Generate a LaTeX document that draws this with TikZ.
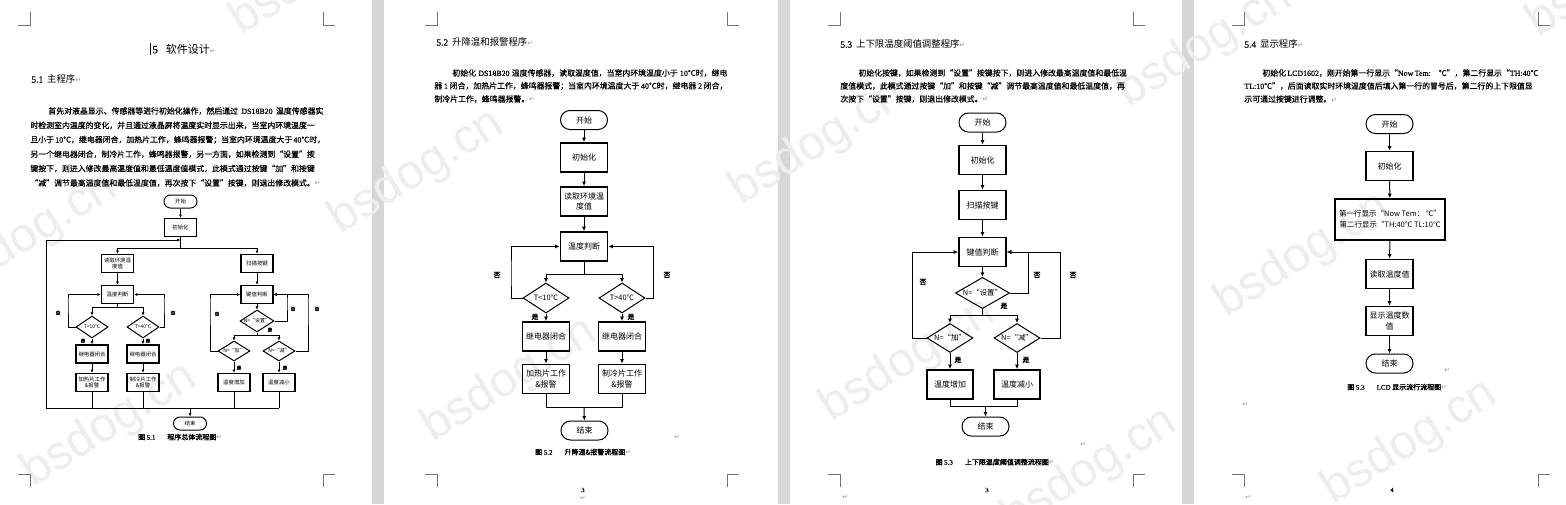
\documentclass[tikz,border=0pt]{standalone}
\usepackage{fontspec}
\setmainfont{Liberation Serif}[FakeBold=0.6]
\newfontfamily\cjk{Noto Sans CJK SC}
\newfontfamily\cjkbody[FakeBold=0.6]{Noto Sans CJK SC}
\newfontfamily\cjkbold[FakeBold=1.5]{Noto Sans CJK SC}
\newfontfamily\wmfont{Liberation Sans}
\newfontfamily\markfont{DejaVu Sans}
\usetikzlibrary{arrows.meta,shapes.geometric}

% stretchable glue between Chinese characters, so that lines can be justified
\XeTeXinterchartokenstate=1
\def\cjkglue{\hskip0pt plus 1pt\relax}
\XeTeXinterchartoks 0 1={\cjkglue}
\XeTeXinterchartoks 1 0={\cjkglue}
\XeTeXinterchartoks 1 1={\cjkglue}
\XeTeXinterchartoks 1 2={\cjkglue}
\XeTeXinterchartoks 1 3={\cjkglue}
\XeTeXinterchartoks 2 1={\cjkglue}
\XeTeXinterchartoks 3 1={\cjkglue}
\XeTeXinterchartoks 3 2={\cjkglue}
\XeTeXinterchartoks 3 3={\cjkglue}
\XeTeXinterchartoks 0 2={\cjkglue}
\XeTeXinterchartoks 3 0={\cjkglue}

\newcommand\jline[2]{\hbox to #1{#2}}
\newcommand\lat[1]{{\rmfamily #1}}
\newcommand\pmark{{\markfont\color{black!45}\fontsize{3.3}{4}\selectfont ↵}}
\newcommand\bodyfont{\cjkbody\fontsize{3.95}{4.8}\selectfont}

\begin{document}
\begin{tikzpicture}[x=0.5pt, y=-0.5pt,
  txt/.style={anchor=west, inner sep=0pt, font=\bodyfont},
  head/.style={anchor=west, inner sep=0pt, font=\cjk\fontsize{4.7}{5}\selectfont},
  box/.style={draw, line width=0.9pt, minimum width=23.5pt, minimum height=14.5pt, inner sep=0.5pt, align=center, font=\cjk\fontsize{4}{5.2}\selectfont},
  term/.style={draw, line width=0.5pt, rounded corners=4.7pt, minimum width=23.5pt, minimum height=9.5pt, inner sep=0pt, font=\cjk\fontsize{4}{5}\selectfont},
  dia/.style={draw, diamond, aspect=1.6, line width=0.5pt, minimum width=23pt, minimum height=15pt, inner sep=0pt, font=\cjk\fontsize{3.7}{4.5}\selectfont},
  sbox/.style={box, line width=0.7pt, minimum width=16pt, minimum height=9pt, font=\cjk\fontsize{2.7}{3.4}\selectfont},
  sterm/.style={term, rounded corners=3.2pt, minimum width=16.5pt, minimum height=6.5pt, font=\cjk\fontsize{2.7}{3.3}\selectfont},
  sdia/.style={dia, minimum width=16pt, minimum height=11pt, font=\cjk\fontsize{2.5}{3}\selectfont},
  lab/.style={inner sep=0pt, font=\cjkbold\fontsize{3.5}{4}\selectfont},
  slab/.style={inner sep=0pt, font=\cjkbold\fontsize{2.3}{3}\selectfont},
  capt/.style={inner sep=0pt, font=\cjkbold\fontsize{3.5}{4}\selectfont},
  arr/.style={-{Latex[length=2.2pt,width=2pt]}, line width=0.5pt},
  sarr/.style={-{Latex[length=1.6pt,width=1.5pt]}, line width=0.45pt},
  ln/.style={line width=0.5pt},
  wm/.style={text=black!7, rotate=32, inner sep=0pt, font=\wmfont\fontsize{24}{24}\selectfont},
  crop/.style={black!55, line width=0.4pt}]
\useasboundingbox (0,0) rectangle (1566,504);
\fill[white] (0,0) rectangle (1566,504);
\fill[black!16] (372,0) rectangle (384,504);
\fill[black!16] (778,0) rectangle (790,504);
\fill[black!16] (1182,0) rectangle (1194,504);

% watermark
\foreach \x/\y in {318/-27, 30/235, 110/425, 417/172, 510/380, 818/143, 908/360, 1090/470, 1205/45, 1303/255, 1410/442, 1615/-25}
  \node[wm] at (\x,\y) {bsdog.cn};

% crop marks
\foreach \l/\r in {30/323, 437/727, 840/1133, 1244/1538} {
  \draw[crop] (\l-12,25) -- (\l,25) -- (\l,12);
  \draw[crop] (\r+12,25) -- (\r,25) -- (\r,12);
  \draw[crop] (\l-12,474) -- (\l,474) -- (\l,487);
  \draw[crop] (\r+12,474) -- (\r,474) -- (\r,487);
}

% page 1
\draw[black, line width=0.4pt] (150,43) -- (150,55);
\node[anchor=west, inner sep=0pt, font=\cjk\fontsize{5.5}{6}\selectfont] (t1) at (152,49) {\lat{5}\hspace{4pt}软件设计\pmark};
\node[head] (h1) at (31,79) {\lat{5.1}\hspace{2pt}主程序\pmark};
\node[txt] (p1a) at (48,111) {\jline{137.5pt}{首先对液晶显示、传感器等进行初始化操作，然后通过 \lat{DS18B20} 温度传感器实}};
\node[txt] (p1b) at (30,125.4) {\jline{146.5pt}{时检测室内温度的变化，并且通过液晶屏将温度实时显示出来，当室内环境温度一}};
\node[txt] (p1c) at (30,139.8) {\jline{146.5pt}{旦小于 \lat{10}℃，继电器闭合，加热片工作，蜂鸣器报警；当室内环境温度大于 \lat{40}℃时，}};
\node[txt] (p1d) at (30,154.2) {\jline{146.5pt}{另一个继电器闭合，制冷片工作，蜂鸣器报警，另一方面，如果检测到“设置”按}};
\node[txt] (p1e) at (30,168.6) {\jline{146.5pt}{键按下，则进入修改最高温度值和最低温度值模式，此模式通过按键“加”和按键}};
\node[txt] (p1f) at (30,183) {“减”调节最高温度值和最低温度值，再次按下“设置”按键，则退出修改模式。\pmark};

\node[sterm] (a_s) at (180.5,201.5) {开始};
\node[sbox] (a_i) at (180.5,227.5) {初始化};
\node[sbox] (a_r) at (117.5,263.5) {读取环境温\\度值};
\node[sbox] (a_k) at (257,263.5) {扫描按键};
\node[sbox] (a_t) at (117.5,294.5) {温度判断};
\node[sbox] (a_j) at (257,294.5) {键值判断};
\node[sdia] (a_d1) at (92,327) {T<10℃};
\node[sdia] (a_d2) at (143,327) {T>40℃};
\node[sdia, minimum width=17pt] (a_d3) at (257,321) {N=“设置”};
\node[sdia, minimum height=10pt] (a_d4) at (234,351) {N=“加”};
\node[sdia, minimum height=10pt] (a_d5) at (279,351) {N=“减”};
\node[sbox] (a_c1) at (92,354) {继电器闭合};
\node[sbox] (a_c2) at (143,354) {继电器闭合};
\node[sbox] (a_h1) at (92,382.5) {加热片工作\\\&报警};
\node[sbox] (a_h2) at (143,382.5) {制冷片工作\\\&报警};
\node[sbox] (a_u) at (234,382.5) {温度增加};
\node[sbox] (a_v) at (279,382.5) {温度减小};
\node[sterm] (a_e) at (190,423.5) {结束};
\coordinate (a_top) at (180.5,240);
\coordinate (a_f) at (180.5,248);
\coordinate (a_f2) at (117.5,307);
\coordinate (a_f3) at (257,335);
\coordinate (a_l1) at (68,300);
\coordinate (a_r1) at (164,300);
\coordinate (a_l2) at (210,300);
\coordinate (a_r2) at (287,300);
\coordinate (a_r3) at (308,300);
\coordinate (a_b0) at (46,408);
\coordinate (a_b1) at (279,408);
\coordinate (a_bm) at (190,408);
\draw[sarr] (a_s) -- (a_i);
\draw[ln] (a_i) -- (a_f);
\draw[sarr] (a_b0) |- (a_top);
\draw[sarr] (a_f) -| (a_r);
\draw[sarr] (a_f) -| (a_k);
\draw[sarr] (a_r) -- (a_t);
\draw[sarr] (a_k) -- (a_j);
\draw[ln] (a_t) -- (a_f2);
\draw[sarr] (a_f2) -| (a_d1);
\draw[sarr] (a_f2) -| (a_d2);
\draw[sarr] (a_d1.west) -| (a_l1) |- (a_t.west);
\draw[sarr] (a_d2.east) -| (a_r1) |- (a_t.east);
\draw[sarr] (a_d1) -- (a_c1);
\draw[sarr] (a_d2) -- (a_c2);
\draw[sarr] (a_c1) -- (a_h1);
\draw[sarr] (a_c2) -- (a_h2);
\draw[sarr] (a_j) -- (a_d3);
\draw[ln] (a_d3) -- (a_f3);
\draw[sarr] (a_f3) -| (a_d4);
\draw[sarr] (a_f3) -| (a_d5);
\draw[sarr] (a_d4.west) -| (a_l2) |- (a_j.west);
\draw[sarr] (a_d3.east) -| (a_r2) |- (a_j.east);
\draw[sarr] (a_d5.east) -| (a_r3) |- (a_j.east);
\draw[sarr] (a_d4) -- (a_u);
\draw[sarr] (a_d5) -- (a_v);
\draw[ln] (a_b0) -- (a_b1);
\draw[ln] (a_h1) -- (a_h1 |- a_b0);
\draw[ln] (a_h2) -- (a_h2 |- a_b0);
\draw[ln] (a_u) -- (a_u |- a_b0);
\draw[ln] (a_v) -- (a_v |- a_b0);
\draw[sarr] (a_bm) -- (a_e);
\node[slab] at (58,313) {否};
\node[slab] at (173,313) {否};
\node[slab] at (217,314) {否};
\node[slab] at (293,309) {否};
\node[slab] at (317,309) {否};
\node[slab] at (83,341) {是};
\node[slab] at (148,341) {是};
\node[slab] at (270,330) {是};
\node[slab] at (239,368) {是};
\node[slab] at (285,368) {是};
\node[capt] (cap1) at (180,437) {图 \lat{5.1}\hspace{6pt}程序总体流程图\pmark};

% page 2
\node[head] (h2) at (436,42) {\lat{5.2}\hspace{2pt}升降温和报警程序\pmark};
\node[txt] (p2a) at (452,73) {\jline{137.5pt}{初始化 \lat{DS18B20} 温度传感器，读取温度值，当室内环境温度小于 \lat{10}℃时，继电}};
\node[txt] (p2b) at (434,86) {\jline{146.5pt}{器 \lat{1} 闭合，加热片工作，蜂鸣器报警；当室内环境温度大于 \lat{40}℃时，继电器 \lat{2} 闭合，}};
\node[txt] (p2c) at (434,99) {制冷片工作，蜂鸣器报警。\pmark};

\node[term] (b_s) at (584,120) {开始};
\node[box] (b_i) at (584,157.5) {初始化};
\node[box] (b_r) at (584,201.5) {读取环境温\\度值};
\node[box] (b_j) at (584,246.5) {温度判断};
\node[dia] (b_d1) at (546,298) {T<10℃};
\node[dia] (b_d2) at (622,298) {T>40℃};
\node[box] (b_c1) at (546,336.5) {继电器闭合};
\node[box] (b_c2) at (622,336.5) {继电器闭合};
\node[box] (b_h1) at (546,379) {加热片工作\\\&报警};
\node[box] (b_h2) at (622,379) {制冷片工作\\\&报警};
\node[term] (b_e) at (584.5,430.5) {结束};
\coordinate (b_f) at (584,274);
\coordinate (b_l) at (511,274);
\coordinate (b_rr) at (653,274);
\coordinate (b_m) at (584,407);
\draw[arr] (b_s) -- (b_i);
\draw[arr] (b_i) -- (b_r);
\draw[arr] (b_r) -- (b_j);
\draw[ln] (b_j) -- (b_f);
\draw[arr] (b_f) -| (b_d1);
\draw[arr] (b_f) -| (b_d2);
\draw[arr] (b_d1.west) -| (b_l) |- (b_j.west);
\draw[arr] (b_d2.east) -| (b_rr) |- (b_j.east);
\draw[arr] (b_d1) -- (b_c1);
\draw[arr] (b_d2) -- (b_c2);
\draw[arr] (b_c1) -- (b_h1);
\draw[arr] (b_c2) -- (b_h2);
\draw[ln] (b_h1) |- (b_m);
\draw[ln] (b_h2) |- (b_m);
\draw[arr] (b_m) -- (b_e);
\node[lab] at (497,275) {否};
\node[lab] at (667,275) {否};
\node[lab] at (535,317) {是};
\node[lab] at (631,317) {是};
\node[capt] (cap2) at (583,452) {图 \lat{5.2}\hspace{6pt}升降温\&报警流程图\pmark};
\node[inner sep=0pt] at (677,437) {\pmark};

% page 3
\node[head] (h3) at (840,44) {\lat{5.3}\hspace{2pt}上下限温度阈值调整程序\pmark};
\node[txt] (p3a) at (858,73) {\jline{137.5pt}{初始化按键，如果检测到“设置”按键按下，则进入修改最高温度值和最低温}};
\node[txt] (p3b) at (840,86) {\jline{146.5pt}{度值模式，此模式通过按键“加”和按键“减”调节最高温度值和最低温度值，再}};
\node[txt] (p3c) at (840,99) {次按下“设置”按键，则退出修改模式。\pmark};

\node[term] (c_s) at (982.5,122.5) {开始};
\node[box] (c_i) at (982.5,160) {初始化};
\node[box] (c_k) at (982.5,205) {扫描按键};
\node[box] (c_j) at (982.5,252) {键值判断};
\node[dia, minimum width=27pt, minimum height=14pt] (c_d) at (982.5,293) {N=“设置”};
\node[dia, minimum height=14.5pt] (c_da) at (950,338) {N=“加”};
\node[dia, minimum height=14.5pt] (c_db) at (1017,338) {N=“减”};
\node[box, minimum width=23pt] (c_u) at (950,384.5) {温度增加};
\node[box, minimum width=23pt] (c_v) at (1017,384.5) {温度减小};
\node[term] (c_e) at (985.5,426.5) {结束};
\coordinate (c_f) at (982.5,315);
\coordinate (c_l) at (912,300);
\coordinate (c_r1) at (1028,280);
\coordinate (c_r2) at (1060,300);
\coordinate (c_m) at (985.5,406);
\draw[arr] (c_s) -- (c_i);
\draw[arr] (c_i) -- (c_k);
\draw[arr] (c_k) -- (c_j);
\draw[arr] (c_j) -- (c_d);
\draw[ln] (c_d) -- (c_f);
\draw[arr] (c_f) -| (c_da);
\draw[arr] (c_f) -| (c_db);
\draw[arr] (c_da.west) -| (c_l) |- (c_j.west);
\draw[arr] (c_d.east) -| (c_r1) |- (c_j.east);
\draw[arr] (c_db.east) -| (c_r2) |- (c_j.east);
\draw[arr] (c_da) -- (c_u);
\draw[arr] (c_db) -- (c_v);
\draw[ln] (c_u) |- (c_m);
\draw[ln] (c_v) |- (c_m);
\draw[arr] (c_m) -- (c_e);
\node[lab] at (923,282) {否};
\node[lab] at (1037,275) {否};
\node[lab] at (1073,275) {否};
\node[lab] at (1004,306) {是};
\node[lab] at (958,360) {是};
\node[lab] at (1026,360) {是};
\node[capt] (cap3) at (995,462) {图 \lat{5.3}\hspace{6pt}上下限温度阈值调整流程图\pmark};
\node[inner sep=0pt] at (1083,444) {\pmark};

% page 4
\node[head] (h4) at (1244,44) {\lat{5.4}\hspace{2pt}显示程序\pmark};
\node[txt] (p4a) at (1262,73) {\jline{138pt}{初始化 \lat{LCD1602}，刚开始第一行显示“\lat{Now Tem:}\hspace{4pt}℃”，第二行显示“\lat{TH:40}℃}};
\node[txt] (p4b) at (1244,86) {\jline{146.5pt}{\lat{TL:10}℃”，后面读取实时环境温度值后填入第一行的冒号后，第二行的上下限值显}};
\node[txt] (p4c) at (1244,99) {示可通过按键进行调整。\pmark};

\node[term] (d_s) at (1389.5,124) {开始};
\node[box] (d_i) at (1389.5,166) {初始化};
\node[box, minimum width=55pt, minimum height=20.5pt, inner sep=0pt, font=\cjk\fontsize{3.75}{5.4}\selectfont] (d_w) at (1390,219.5) {第一行显示“Now Tem： ℃”\\第二行显示“TH:40℃ TL:10℃};
\node[box] (d_r) at (1389.5,274) {读取温度值};
\node[box] (d_n) at (1389.5,321) {显示温度数\\值};
\node[term] (d_e) at (1389.5,363.5) {结束};
\draw[arr] (d_s) -- (d_i);
\draw[arr] (d_i) -- (d_w);
\draw[arr] (d_w) -- (d_r);
\draw[arr] (d_r) -- (d_n);
\draw[arr] (d_n) -- (d_e);
\node[capt] (cap4) at (1397,387) {图 \lat{5.3}\hspace{6pt}\lat{LCD} 显示流行流程图\pmark};
\node[inner sep=0pt] at (1447,370) {\pmark};
\node[inner sep=0pt] at (1245,404) {\pmark};

% page numbers
\node[inner sep=0pt, font=\fontsize{3.3}{4}\selectfont] at (583,490) {3};
\node[inner sep=0pt] at (583,498) {\pmark};
\node[inner sep=0pt, font=\fontsize{3.3}{4}\selectfont] at (987,490) {3};
\node[inner sep=0pt] at (845,497) {\pmark};
\node[inner sep=0pt, font=\fontsize{3.3}{4}\selectfont] at (1392,490) {4};
\node[inner sep=0pt] at (1248,497) {\pmark};
\end{tikzpicture}
\end{document}
